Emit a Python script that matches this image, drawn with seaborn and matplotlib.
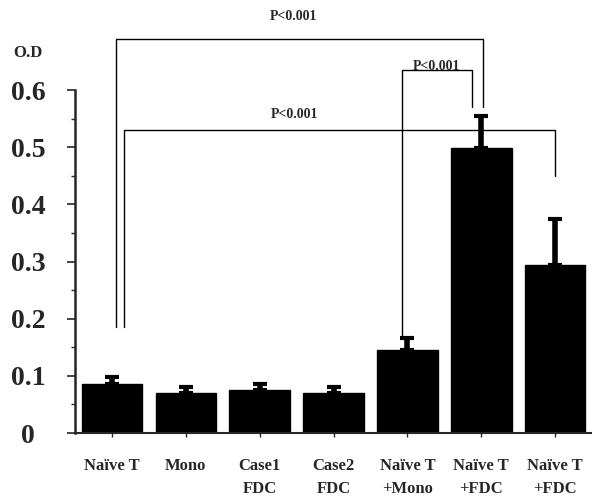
import matplotlib
matplotlib.use("Agg")
import matplotlib.pyplot as plt
import seaborn as sns
import pandas as pd
from matplotlib.ticker import MultipleLocator

categories = ["Naïve T", "Mono", "Case1\nFDC", "Case2\nFDC", "Naïve T\n+Mono", "Naïve T\n+FDC", "Naïve T\n+FDC"]
means = [0.086, 0.070, 0.075, 0.070, 0.145, 0.498, 0.294]
errors = [0.012, 0.010, 0.011, 0.010, 0.021, 0.056, 0.080]
y_ticks = [0, 0.1, 0.2, 0.3, 0.4, 0.5, 0.6]
y_tick_labels = ["0", "0.1", "0.2", "0.3", "0.4", "0.5", "0.6"]

# brackets: (x_left, x_right, y_top, y_left_end, y_right_end, label, label_x, label_y)
brackets = [
    (0.05, 5.03, 0.689, 0.185, 0.570, "P<0.001", 2.45, 0.718),
    (0.16, 6.00, 0.530, 0.185, 0.450, "P<0.001", 2.47, 0.545),
    (3.92, 4.88, 0.635, 0.165, 0.570, "P<0.001", 4.40, 0.630),
]

sns.set_style("ticks")
plt.rcParams["font.family"] = ["Liberation Serif", "DejaVu Serif"]

df = pd.DataFrame({"cat": [f"c{i}" for i in range(len(categories))], "val": means})

fig = plt.figure(figsize=(5.92, 5.03), dpi=100)
ax = fig.add_axes([0.127, 0.139, 0.873, 0.682])

sns.barplot(data=df, x="cat", y="val", color="black", width=0.82, ax=ax,
            errorbar=None, saturation=1)
for p in ax.patches:
    p.set_edgecolor("black")

xs = list(range(len(categories)))
ax.errorbar(xs, means, yerr=[[0] * len(errors), errors], fmt="none",
            ecolor="black", elinewidth=4, capsize=5, capthick=3, zorder=3)

ax.set_xlim(-0.5, 6.5)
ax.set_ylim(0, 0.6)
ax.set_yticks(y_ticks)
ax.set_yticklabels(y_tick_labels, fontsize=20, fontweight="bold")
ax.yaxis.set_minor_locator(MultipleLocator(0.05))
ax.set_xticks(xs)
ax.set_xticklabels(categories, fontsize=12, fontweight="bold", linespacing=1.55)
ax.tick_params(axis="y", which="major", direction="out", length=6, width=1.2, pad=28)
ax.tick_params(axis="y", which="minor", direction="out", length=3, width=1)
ax.tick_params(axis="x", direction="out", length=3, width=1, pad=15)
for lab in ax.get_yticklabels():
    lab.set_horizontalalignment("center")
ax.set_xlabel("")
ax.set_ylabel("")
ax.spines["top"].set_visible(False)
ax.spines["right"].set_visible(False)
ax.spines["left"].set_linewidth(1.8)
ax.spines["bottom"].set_linewidth(1.5)

for xl, xr, yt, yl, yr, lab, lx, ly in brackets:
    ax.plot([xl, xl, xr, xr], [yl, yt, yt, yr], color="black", lw=1.0, clip_on=False)
    ax.text(lx, ly, lab, ha="center", va="bottom",
            fontsize=10, fontweight="bold", clip_on=False)

fig.text(0.022, 0.895, "O.D", fontsize=12, fontweight="bold", ha="left", va="center")

fig.savefig("out.png", dpi=100)
